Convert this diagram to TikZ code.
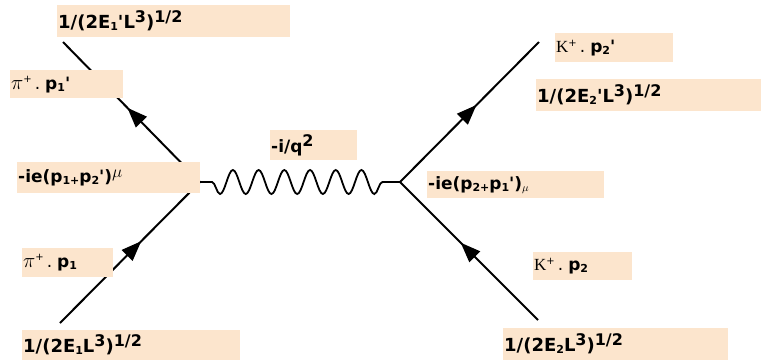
\documentclass[tikz,border=0pt]{standalone}
\usepackage{fontspec}
\setmainfont{DejaVu Sans}
\newfontfamily\serifK{Liberation Serif}
\usetikzlibrary{decorations.pathmorphing,decorations.markings,arrows.meta}
\definecolor{peach}{RGB}{252,229,205}
% lowered and raised indices in the label font
\newcommand{\lo}[1]{\raisebox{-2pt}{\fontsize{11}{11}\selectfont #1}}
\newcommand{\hi}[1]{\raisebox{6pt}{\fontsize{16}{16}\selectfont #1}}
\newcommand{\tick}{\textquotesingle}
% particle symbols with their charge
\newcommand{\pip}{\mdseries{\fontsize{20}{20}\selectfont$\pi$}\raisebox{7pt}{\fontsize{10}{10}\selectfont +}\hspace{3pt}.\hspace{5pt}\bfseries}
\newcommand{\kp}{\mdseries{\serifK K}\raisebox{6pt}{\fontsize{10}{10}\selectfont +}\hspace{3pt}.\hspace{5pt}\bfseries}
\begin{document}
\begin{tikzpicture}[x=1pt,y=-1pt,
  lbl/.style={fill=peach, anchor=north west, inner xsep=1pt, inner ysep=0pt,
    align=left, font=\fontsize{17}{17}\selectfont\bfseries},
  norm/.style={lbl, font=\fontsize{18}{18}\selectfont\bfseries},
  fermion/.style={line width=2pt, postaction={decorate},
    decoration={markings, mark=at position #1 with
      {\arrow{Triangle[length=20pt,width=15pt]}}}},
  photon/.style={line width=1.8pt}
]
\useasboundingbox (0,0) rectangle (761,360);

% vertices and external line ends
\coordinate (vL) at (200,182);
\coordinate (vR) at (400,182);
\coordinate (eL1) at (63,42);
\coordinate (eL2) at (60,323);
\coordinate (eR1) at (539,42);
\coordinate (eR2) at (538,320);
\coordinate (pA) at (212,182);
\coordinate (pB) at (392,182);

% external particle lines
\draw[fermion=0.53] (vL) -- (eL1);
\draw[fermion=0.58] (eL2) -- (vL);
\draw[fermion=0.55] (vR) -- (eR1);
\draw[fermion=0.56] (eR2) -- (vR);

% exchanged photon
\draw[photon] (vL) -- (pA)
  decorate[decoration={snake, mirror, amplitude=12pt, segment length=25.714pt}]
  { -- (pB)} -- (vR);

% normalisation factors of the external states
\node[norm, text width=231pt, minimum height=32pt] (topL) at (57,5)
  {1/(2E\lo{1}\tick L\hi{3})\hi{1/2}};
\node[norm, text width=216pt, minimum height=30pt] (botL) at (22,330)
  {1/(2E\lo{1}L\hi{3})\hi{1/2}};
\node[norm, text width=223pt, minimum height=32pt] (topR) at (536,79)
  {1/(2E\lo{2}\tick L\hi{3})\hi{1/2}};
\node[norm, text width=223pt, minimum height=32pt] (botR) at (503,328)
  {1/(2E\lo{2}L\hi{3})\hi{1/2}};

% particle and momentum labels
\node[lbl, text width=111pt, minimum height=28pt] (pipL) at (10,70)
  {\pip p\lo{1}\tick};
\node[lbl, text width=89pt, minimum height=29pt] (pinL) at (22,248)
  {\pip p\lo{1}};
\node[lbl, text width=116pt, minimum height=29pt] (kopR) at (555,33)
  {\kp p\lo{2}\tick};
\node[lbl, text width=97pt, minimum height=28pt] (kinR) at (533,252)
  {\kp p\lo{2}};

% vertex factors and propagator
\node[lbl, text width=181pt, minimum height=31pt] (vtxL) at (17,162)
  {-ie(p\lo{1}\lo{+}p\lo{2}\tick)\raisebox{5pt}{$\mu$}};
\node[lbl, text width=85pt, minimum height=30pt] (prop) at (270,130)
  {-i/q\hi{2}};
\node[lbl, text width=175pt, minimum height=27pt] (vtxR) at (427,171)
  {-ie(p\lo{2}\lo{+}p\lo{1}\tick)\lo{$\mu$}};
\end{tikzpicture}
\end{document}
